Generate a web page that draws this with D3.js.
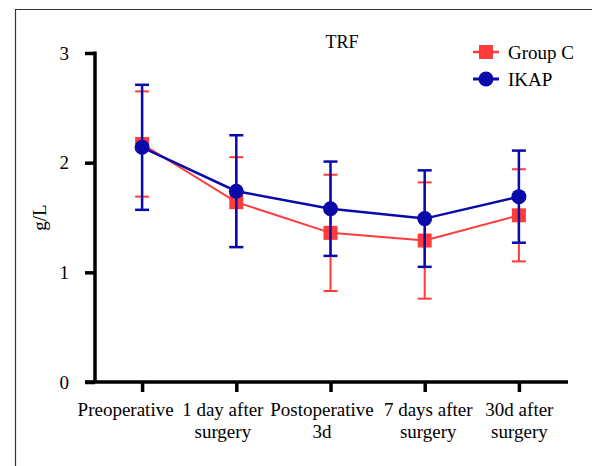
<!DOCTYPE html>
<html>
<head>
<meta charset="utf-8">
<script src="https://cdn.jsdelivr.net/npm/d3@7"></script>
<style>
    body { margin: 0; background: #fff; }
    svg { display: block; }
    svg text { font-family: "Liberation Serif", "Times New Roman", serif; }
</style>
</head>
<body>
<svg id="chart" width="592" height="466"></svg>
<script>
/***************************************************************
    Data
****************************************************************/
const categories = [
    ["Preoperative"],
    ["1 day after", "surgery"],
    ["Postoperative", "3d"],
    ["7 days after", "surgery"],
    ["30d after", "surgery"]
];
const groupCMean = [2.17, 1.64, 1.36, 1.29, 1.52];
const groupCSd   = [0.48, 0.41, 0.53, 0.53, 0.42];
const ikapMean   = [2.14, 1.74, 1.58, 1.49, 1.69];
const ikapSd     = [0.57, 0.51, 0.43, 0.44, 0.42];
const yTicks = [0, 1, 2, 3];

// the original labels sit a little off their ticks
const labelShift = [-17, -14, -9, 3, 0];

const series = [
    { name: "Group C", mean: groupCMean, sd: groupCSd, color: "#ff3b3b", shape: "square", lw: 2 },
    { name: "IKAP", mean: ikapMean, sd: ikapSd, color: "#0a0aaa", shape: "circle", lw: 2.5 }
];

/***************************************************************
    Drawing
****************************************************************/
const svg = d3.select("#chart");

// outer frame (top and left edges only visible)
svg.append("path")
    .attr("d", "M15.5,466 V9.5 H592")
    .attr("fill", "none").attr("stroke", "#333").attr("stroke-width", 1.2);

const x = d3.scalePoint()
    .domain(d3.range(categories.length))
    .range([95, 566])
    .padding(0.5);
const y = d3.scaleLinear().domain([0, 3]).range([382, 53]);

// y axis
const yAxis = svg.append("g").attr("transform", "translate(95,0)")
    .call(d3.axisLeft(y).tickValues(yTicks).tickSize(10).tickPadding(16).tickFormat(d3.format("d")));
yAxis.attr("font-family", null).attr("font-size", 19);
yAxis.select(".domain").attr("d", "M0," + (y(3) - 1.5) + "V" + y(0));
yAxis.selectAll("line, .domain").attr("stroke", "#000").attr("stroke-width", 3.5);
yAxis.selectAll("text").attr("fill", "#000");

// x axis
const xAxis = svg.append("g").attr("transform", "translate(0,382)")
    .call(d3.axisBottom(x).tickSize(10).tickFormat(""));
xAxis.attr("font-family", null).attr("font-size", 19);
xAxis.select(".domain").attr("d", "M85,0H568");
xAxis.selectAll("line, .domain").attr("stroke", "#000").attr("stroke-width", 3.5);

xAxis.selectAll(".tick").each(function (d) {
    const t = d3.select(this).append("text")
        .attr("fill", "#000").attr("text-anchor", "middle");
    categories[d].forEach((line, i) => {
        t.append("tspan").attr("x", labelShift[d]).attr("y", 34 + i * 22).text(line);
    });
});

// y label + title
svg.append("text")
    .attr("transform", "translate(46," + ((y(0) + y(3)) / 2) + ") rotate(-90)")
    .attr("text-anchor", "middle").attr("font-size", 19).text("g/L");
svg.append("text")
    .attr("x", 342).attr("y", 48)
    .attr("text-anchor", "middle").attr("font-size", 18).text("TRF");

// series
const line = d3.line().x((d, i) => x(i)).y(d => y(d));

function drawMarker(g, s, cx, cy) {
    if (s.shape === "square") {
        g.append("rect").attr("x", cx - 7).attr("y", cy - 7)
            .attr("width", 14).attr("height", 14).attr("fill", s.color);
    } else {
        g.append("circle").attr("cx", cx).attr("cy", cy).attr("r", 7.5).attr("fill", s.color);
    }
}

series.forEach(s => {
    const g = svg.append("g");
    g.append("path").datum(s.mean).attr("d", line)
        .attr("fill", "none").attr("stroke", s.color).attr("stroke-width", s.lw);

    s.mean.forEach((m, i) => {
        const cx = x(i), hi = y(m + s.sd[i]), lo = y(m - s.sd[i]);
        g.append("line").attr("x1", cx).attr("x2", cx).attr("y1", hi).attr("y2", lo)
            .attr("stroke", s.color).attr("stroke-width", s.lw);
        [hi, lo].forEach(v => {
            g.append("line").attr("x1", cx - 7).attr("x2", cx + 7).attr("y1", v).attr("y2", v)
                .attr("stroke", s.color).attr("stroke-width", s.lw);
        });
        drawMarker(g, s, cx, y(m));
    });
});

// legend
series.forEach((s, i) => {
    const ly = 52 + i * 27;
    const g = svg.append("g");
    g.append("line").attr("x1", 473).attr("x2", 499).attr("y1", ly).attr("y2", ly)
        .attr("stroke", s.color).attr("stroke-width", s.lw + 0.5);
    drawMarker(g, s, 486, ly);
    g.append("text").attr("x", 508).attr("y", ly + 6.5)
        .attr("font-size", 19).text(s.name);
});
</script>
</body>
</html>
